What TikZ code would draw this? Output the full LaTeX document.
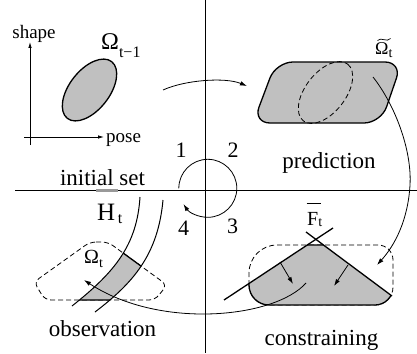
\documentclass[tikz,border=0pt]{standalone}
\usepackage{fontspec}
\setmainfont{Liberation Serif}
\usetikzlibrary{arrows.meta,calc}
\newcommand\myfs[1]{\fontsize{#1}{#1}\selectfont}
\newcommand\conpath{(249,285) -- (249,273) arc[start angle=180, end angle=270, radius=28] -- (378,245) arc[start angle=270, end angle=360, radius=15] -- (393,287) arc[start angle=0, end angle=90, radius=18] -- (269,305) arc[start angle=90, end angle=180, radius=20] -- cycle}
\newcommand\obspath{(90,242) -- (108,242) -- (167,285) -- (155,300) -- (45,300) -- (34,282) -- cycle}
\definecolor{setgray}{RGB}{192,192,192}
\tikzset{
  crossline/.style={line width=0.8pt},
  outline/.style={line width=1.3pt},
  flow/.style={-{Latex[length=7pt,width=4.5pt]}, line width=0.8pt},
  smallarrow/.style={-{Latex[length=6pt,width=3.5pt]}, line width=0.8pt},
  dashedline/.style={dash pattern=on 5pt off 3pt, line width=0.8pt},
  lbl/.style={inner sep=0pt, anchor=base},
  lblw/.style={inner sep=0pt, anchor=base west},
}
\begin{document}
\begin{tikzpicture}[x=1pt,y=-1pt]
\useasboundingbox (0,0) rectangle (417,353);
% main cross
\coordinate (hl) at (15,190); \coordinate (hr) at (417,190);
\coordinate (vt) at (205.5,0); \coordinate (vb) at (205.5,353);
\draw[crossline] (hl) -- (hr);
\draw[crossline] (vt) -- (vb);

% ---------- initial set ----------
\coordinate (ay0) at (30,145); \coordinate (ay1) at (30,42);
\coordinate (ax0) at (24,137); \coordinate (ax1) at (104,137);
\draw[smallarrow] (ay0) -- (ay1);
\draw[smallarrow] (ax0) -- (ax1);
\node[lbl, font=\myfs{19}] (shape) at (34,39) {shape};
\node[lblw, font=\myfs{19}] (pose) at (106,142.5) {pose};
\draw[outline, fill=setgray] (89.5,90) ellipse[x radius=36, y radius=20, rotate=52];
\node[lblw] (om1) at (101,49) {\myfs{24}Ω\raisebox{-8pt}{\myfs{16}t−1}};
\node[lbl, font=\myfs{23}] (initial) at (102.5,185) {initial set};

% ---------- prediction ----------
\draw[outline, fill=setgray, rounded corners=17pt]
  (276,62) -- (402,62) -- (381,123) -- (253,123) -- cycle;
\draw[dashedline] (325.5,92.5) ellipse[x radius=36, y radius=20, rotate=52];
\node[lblw] (omt) at (375,54) {\myfs{18}Ω\raisebox{-3pt}{\myfs{14}t}};
\draw[line width=0.7pt] (377.5,40.5) .. controls (381,36.5) and (387,43) .. (390.5,38.5);
\node[lbl, font=\myfs{23}] (prediction) at (329,168) {prediction};

% ---------- constraining ----------
\draw[dashedline] \conpath;
\begin{scope}
  \clip (315.84,239.33) -- (150,348.9) -- (150,420) -- (450,420) -- (450,339.2) -- cycle;
  \fill[setgray] \conpath;
  \draw[outline] \conpath;
\end{scope}
\coordinate (c1a) at (224,300); \coordinate (c1b) at (333,228);
\coordinate (c2a) at (306,232); \coordinate (c2b) at (392,296);
\draw[outline] (c1a) -- (c1b);
\draw[outline] (c2a) -- (c2b);
\coordinate (p1a) at (280,262); \coordinate (p1b) at (293,284);
\coordinate (p2a) at (348,265); \coordinate (p2b) at (334,286);
\draw[flow] (p1a) -- (p1b);
\draw[flow] (p2a) -- (p2b);
\node[lblw] (fbar) at (307,225) {\myfs{20}F\raisebox{-1pt}{\myfs{14}t}};
\draw[line width=1pt] (306.5,203) -- (320.5,203);
\node[lbl, font=\myfs{23}] (constraining) at (321.5,345) {constraining};

% ---------- observation ----------
\draw[dashedline, rounded corners=6pt] \obspath;
\begin{scope}
  \clip (140,197) .. controls (137,245) and (115,272) .. (72,306)
        -- (95,312) .. controls (133,283) and (158,255) .. (163,200) -- cycle;
  \fill[setgray, rounded corners=6pt] \obspath;
  \draw[outline, rounded corners=6pt] \obspath;
\end{scope}
\coordinate (bl0) at (140,197); \coordinate (bl1) at (72,306);
\coordinate (br0) at (163,200); \coordinate (br1) at (95,312);
\draw[line width=1pt] (bl0) .. controls (137,245) and (115,272) .. (bl1);
\draw[line width=1pt] (br0) .. controls (158,255) and (133,283) .. (br1);
\node[lblw] (hbar) at (97,220) {\myfs{25}H\raisebox{-3pt}{\myfs{16}\,t}};
\draw[gray!80, line width=2.2pt] (96,190.5) -- (118,190.5);
\node[lblw] (omo) at (84,263) {\myfs{20}Ω\raisebox{-4pt}{\myfs{14}t}};
\node[lbl, font=\myfs{23}] (observation) at (102.5,336.5) {observation};

% ---------- cycle arrows ----------
\coordinate (s1) at (163,90); \coordinate (e1) at (247,86);
\draw[flow] (s1) .. controls (185,80) and (225,77) .. (e1);
\coordinate (s2) at (373,77); \coordinate (m2) at (410,185); \coordinate (e2) at (377,265);
\draw[flow] (s2) .. controls (395,105) and (412,150) .. (m2)
  .. controls (408,220) and (395,245) .. (e2);
\coordinate (s3) at (306,283); \coordinate (e3) at (84,280);
\draw[flow] (s3) .. controls (275,318) and (160,330) .. (e3);

% ---------- center loop ----------
\coordinate (cs) at (178.8,188.3);
\draw[flow] (cs) arc[start angle=-180, end angle=147, radius=29];
\node[lbl, font=\myfs{22}] (n1) at (181,157) {1};
\node[lbl, font=\myfs{22}] (n2) at (233,157) {2};
\node[lbl, font=\myfs{22}] (n3) at (232.5,233) {3};
\node[lbl, font=\myfs{22}] (n4) at (183.5,235) {4};
\end{tikzpicture}
\end{document}
